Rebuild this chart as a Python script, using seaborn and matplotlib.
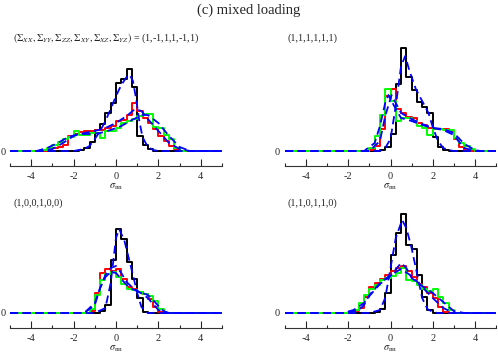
"""
(c) mixed loading: sigma_nn distributions for four loading directions
"""

import numpy as np
import pandas as pd
import matplotlib
matplotlib.use("Agg")
import matplotlib.pyplot as plt
import seaborn as sns

# bin width of all histograms
bin_w = 0.25
edges = np.arange(-5.0, 5.0 + bin_w / 2, bin_w)

panel_labels = [
    r"$(\Sigma_{XX},\Sigma_{YY},\Sigma_{ZZ},\Sigma_{XY},\Sigma_{XZ},\Sigma_{YZ})$ = (1,-1,1,1,-1,1)",
    "(1,1,1,1,1,1)",
    "(1,0,0,1,0,0)",
    "(1,1,0,1,1,0)",
]

# histograms: (first bin left edge, bin heights)
tl_black = (-2.0, [0, 1, 3, 9, 21, 27, 38, 48, 68, 72, 82, 64, 15, 6, 2, 0.5])
tl_red = (-3.25, [1, 3, 4, 6, 15, 17, 19, 20, 20, 21, 21, 23, 25, 30, 31, 36,
                  48, 40, 33, 28, 22, 15, 10, 5, 2, 0.5])
tl_green = (-3.5, [1, 3, 6, 9, 12, 14, 20, 16, 16, 18, 18, 13, 20, 20, 23, 28,
                   30, 32, 35, 37, 37, 24, 23, 16, 12, 3, 0.5])

tr_black = (-0.5, [1, 4, 17, 67, 103, 74, 61, 49, 44, 38, 14, 4, 1, 0.5])
tr_red = (-1.0, [1, 5, 22, 55, 62, 42, 38, 34, 33, 28, 26, 23, 22, 22, 22, 20,
                 12, 4, 1])
tr_green = (-1.0, [3, 15, 36, 62, 50, 30, 33, 33, 30, 25, 23, 16, 22, 22, 21,
                   21, 13, 8, 5, 2])

bl_black = (-0.75, [2, 8, 53, 84, 74, 51, 34, 15, 1])
bl_red = (-1.25, [2, 20, 40, 44, 42, 44, 34, 26, 24, 21, 19, 14, 6, 1])
bl_green = (-1.25, [4, 18, 33, 39, 41, 36, 29, 24, 23, 21, 19, 17, 12, 4])

br_black = (-0.75, [1, 4, 20, 58, 80, 99, 68, 64, 38, 16, 3])
br_red = (-2.0, [0.5, 2, 5, 16, 26, 30, 34, 38, 42, 45, 47, 42, 36, 29, 26, 20,
                 15, 6, 1])
br_green = (-2.0, [1, 3, 10, 18, 24, 28, 33, 35, 37, 40, 45, 33, 32, 28, 24, 22,
                   24, 16, 10, 3, 0.5])

# smooth fits (blue dashed) as (x, y) points
tl_fit_black = ([-5, -2, -1.5, -1.25, -1, -0.75, -0.5, -0.25, 0, 0.25, 0.5, 0.65,
                 0.8, 0.95, 1.1, 1.25, 1.5, 1.75, 2, 5],
                [0, 0, 2, 5, 12, 20, 30, 42, 55, 66, 74, 76, 70, 52, 30, 14, 4, 1, 0, 0])
tl_fit_red = ([-5, -3.5, -3, -2.5, -2, -1.5, -1, -0.5, 0, 0.5, 0.9, 1.2, 1.5, 2,
               2.5, 3, 3.5, 5],
              [0, 0, 2, 8, 15, 18, 20, 23, 28, 35, 42, 40, 32, 20, 8, 2, 0, 0])
tl_fit_green = ([-5, -3.75, -3.25, -2.75, -2.25, -1.75, -1.25, -0.75, -0.25, 0.25,
                 0.75, 1.25, 1.5, 2, 2.5, 3, 3.5, 5],
                [0, 0, 3, 8, 14, 17, 17, 18, 21, 25, 31, 36, 36, 28, 15, 4, 0, 0])

tr_fit_black = ([-5, -0.5, -0.25, 0, 0.25, 0.5, 0.7, 0.9, 1.2, 1.5, 1.8, 2.0, 2.25,
                 2.5, 2.75, 3, 5],
                [0, 0, 3, 12, 45, 85, 95, 80, 62, 50, 38, 24, 10, 3, 1, 0, 0])
tr_fit_red = ([-5, -1, -0.5, -0.25, 0.05, 0.25, 0.5, 0.75, 1, 1.5, 2, 2.5, 3,
               3.25, 3.5, 4, 5],
              [0, 0, 10, 35, 56, 48, 38, 35, 32, 27, 23, 21, 16, 9, 3, 0, 0])
tr_fit_green = ([-5, -1.25, -0.75, -0.5, -0.25, -0.1, 0.25, 0.5, 1, 1.5, 2, 2.5,
                 3, 3.5, 4, 4.25, 5],
                [0, 0, 8, 25, 48, 56, 42, 33, 30, 26, 23, 22, 18, 7, 1, 0, 0])

bl_fit_black = ([-5, -1, -0.5, -0.25, 0, 0.15, 0.4, 0.6, 0.8, 1.0, 1.2, 1.5, 5],
                [0, 0, 5, 30, 75, 84, 72, 55, 38, 20, 6, 0, 0])
bl_fit_red = ([-5, -1.5, -1, -0.75, -0.5, -0.25, 0, 0.25, 0.5, 0.75, 1, 1.25,
               1.5, 1.75, 2, 2.25, 5],
              [0, 0, 8, 25, 38, 45, 47, 40, 31, 26, 22, 19, 15, 9, 3, 0, 0])
bl_fit_green = ([-5, -1.5, -1.0, -0.75, -0.5, -0.25, 0, 0.25, 0.5, 0.75, 1, 1.5,
                 1.75, 2, 2.25, 2.5, 5],
                [0, 0, 10, 25, 36, 41, 40, 34, 28, 24, 22, 18, 13, 7, 2, 0, 0])

br_fit_black = ([-5, -1, -0.5, -0.25, 0, 0.25, 0.55, 0.75, 1, 1.25, 1.5, 1.75,
                 2, 2.25, 5],
                [0, 0, 3, 15, 45, 75, 93, 85, 65, 40, 15, 4, 1, 0, 0])
br_fit_red = ([-5, -2, -1.5, -1.25, -1, -0.5, 0, 0.5, 1, 1.5, 2, 2.5, 3, 5],
              [0, 0, 3, 8, 18, 30, 38, 44, 37, 26, 15, 5, 0, 0])
br_fit_green = ([-5, -2.25, -1.75, -1.25, -1, -0.5, 0, 0.5, 0.75, 1, 1.5, 2,
                 2.5, 3, 3.5, 5],
                [0, 0, 3, 10, 17, 29, 37, 50, 45, 35, 27, 20, 11, 2, 0, 0])

panels = [
    (tl_black, tl_red, tl_green, tl_fit_black, tl_fit_red, tl_fit_green),
    (tr_black, tr_red, tr_green, tr_fit_black, tr_fit_red, tr_fit_green),
    (bl_black, bl_red, bl_green, bl_fit_black, bl_fit_red, bl_fit_green),
    (br_black, br_red, br_green, br_fit_black, br_fit_red, br_fit_green),
]


def full_hist(hist):
    """Put one histogram on the common -5..5 grid"""
    start, heights = hist
    centers = edges[:-1] + bin_w / 2
    weights = np.zeros(len(centers))
    i0 = int(round((start - edges[0]) / bin_w))
    weights[i0:i0 + len(heights)] = heights
    return pd.DataFrame({"x": centers, "w": weights})


sns.set_style("white")
plt.rcParams["font.family"] = ["Liberation Serif", "DejaVu Serif"]
plt.rcParams["mathtext.fontset"] = "stix"

W, H = 498, 355
fig = plt.figure(figsize=(W / 100, H / 100), dpi=100)

# axes boxes in pixels: left, y of axis line, width
boxes = [(10, 166, 212), (285, 166, 211), (10, 328, 212), (285, 328, 211)]
label_pos = [(13, 38), (287, 38), (13, 203), (287, 203)]
ax_h = 130

for k, (panel, box) in enumerate(zip(panels, boxes)):
    left, bottom, width = box
    ax = fig.add_axes([left / W, (H - bottom) / H, width / W, ax_h / H])
    hb, hr, hg, fb, fr, fg = panel

    for hist, color in [(hb, "black"), (hr, "red"), (hg, "#00ff00")]:
        d = full_hist(hist)
        sns.histplot(data=d, x="x", weights="w", binwidth=bin_w,
                     binrange=(-5, 5), element="step", fill=False,
                     color=color, linewidth=1.4, ax=ax)
    for fit in [fb, fr, fg]:
        sns.lineplot(x=fit[0], y=fit[1], color="blue", linewidth=1.3,
                     linestyle=(0, (4.5, 2.5)), ax=ax)

    ax.set_xlim(-5, 5)
    ax.set_ylim(-15, 115)
    ax.set_xticks([-4, -2, 0, 2, 4])
    ax.set_xticks([-5, -3, -1, 1, 3, 5], minor=True)
    ax.set_xticklabels(["-4", "-2", "0", "2", "4"])
    ax.set_yticks([0])
    ax.set_yticklabels(["0"])
    ax.tick_params(axis="x", which="major", direction="in", length=5, width=0.8,
                   labelsize=7.5, pad=4, bottom=True)
    ax.tick_params(axis="x", which="minor", direction="in", length=2.5, width=0.8,
                   bottom=True)
    ax.tick_params(axis="y", length=0, labelsize=7.5, pad=3 if k % 2 == 0 else 4)
    for side in ["left", "right", "top"]:
        ax.spines[side].set_visible(False)
    ax.spines["bottom"].set_color("#333333")
    ax.spines["bottom"].set_linewidth(0.8)
    ax.set_xlabel(r"$\sigma_{\rm nn}$", fontsize=7.5, labelpad=1)
    ax.set_ylabel("")

    lx, ly = label_pos[k]
    fig.text(lx / W, 1 - ly / H, panel_labels[k], fontsize=7.3,
             ha="left", va="center")

fig.text(0.5, 1 - 10 / H, "(c) mixed loading", fontsize=10.5,
         ha="center", va="center")

fig.savefig("out.png", dpi=100)
